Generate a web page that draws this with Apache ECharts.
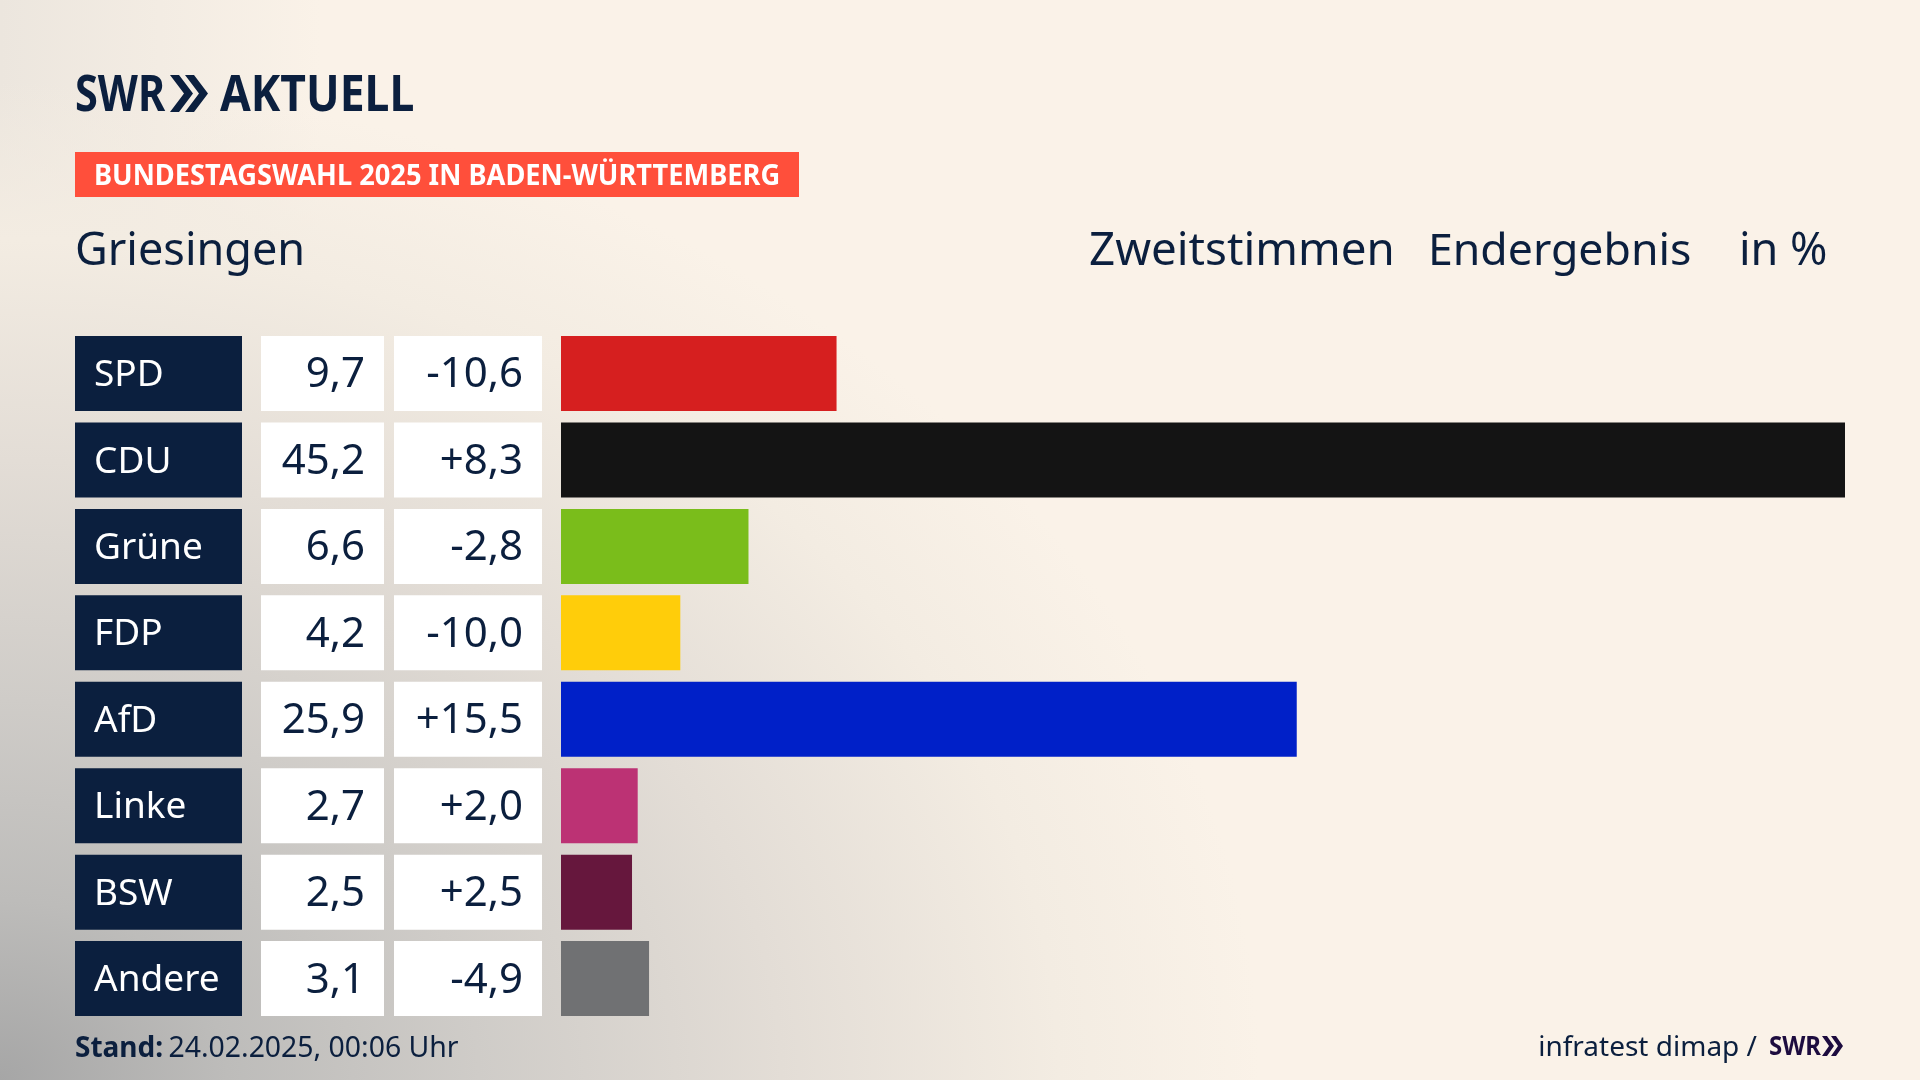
<!DOCTYPE html>
<html lang="de"><head><meta charset="utf-8"><title>Griesingen</title>
<script src="https://cdn.jsdelivr.net/npm/echarts@6/dist/echarts.min.js"></script>
<style>
html,body{margin:0;padding:0;width:1920px;height:1080px;overflow:hidden;background:#faf2e8}
#bg{position:absolute;inset:0;background:
radial-gradient(ellipse 1260px 1000px at 0 1080px,#a6a6a6 0%,#bdbcba 18%,#cfccc8 38%,#e3ddd6 62%,#f3ece2 84%,rgba(250,242,232,0) 100%),
linear-gradient(90deg,#ece6de 0,rgba(250,242,232,0) 320px),#faf2e8}
#c{position:absolute;left:0;top:0;width:1920px;height:1080px}
</style></head><body><div id="bg"></div><div id="c"></div>
<script>
const parties=['SPD','CDU','Grüne','FDP','AfD','Linke','BSW','Andere'];
const results=[9.7,45.2,6.6,4.2,25.9,2.7,2.5,3.1];
const changes=[-10.6,8.3,-2.8,-10.0,15.5,2.0,2.5,-4.9];
const colors=['#D61F1F','#141414','#7ABD1B','#FFCD0A','#0020C8','#BC3274','#66173D','#707173'];
const cellFill=[1,1,1,1,1,1,1,1];

const FONT='"Noto Sans"';
const NAVY='#0B1F3E';
const fmt=v=>v.toFixed(1).replace('.',',');
const fmtD=v=>(v>0?'+':'')+fmt(v);

const top0=330.3,h=691.5;
const lefts=[[75,167],[261,123],[394,148],[561,1284]];
const grids=lefts.map(([left,width])=>({left,width,top:top0,height:h}));
const xAxes=lefts.map((_,i)=>({gridIndex:i,type:'value',min:0,max:i===3?45.2:1,show:false}));
const yAxes=lefts.map((_,i)=>({gridIndex:i,type:'category',data:parties,inverse:true,show:false}));
const cell=(i,color,labelFn,align,textColor,size)=>({
  type:'bar',xAxisIndex:i,yAxisIndex:i,barWidth:75,silent:true,
  data:cellFill,itemStyle:{color},
  label:{show:true,position:align==='left'?'insideLeft':'insideRight',distance:19,offset:[0,2],
    color:textColor,fontFamily:FONT,fontSize:size,formatter:p=>labelFn(p.dataIndex)}
});
const series=[
  cell(0,NAVY,i=>parties[i],'left','#fff',37),
  cell(1,'#fff',i=>fmt(results[i]),'right',NAVY,42),
  cell(2,'#fff',i=>fmtD(changes[i]),'right',NAVY,42),
  {type:'bar',xAxisIndex:3,yAxisIndex:3,barWidth:75,silent:true,
   data:results.map((v,i)=>({value:v,itemStyle:{color:colors[i]}}))}
];
const txt=(text,x,y,size,opt={})=>({type:'text',silent:true,x,y,scaleX:opt.sx||1,style:Object.assign({
  text,x:0,y:0,fill:NAVY,font:`${opt.weight||'normal'} ${size}px ${FONT}`,verticalAlign:'middle',align:opt.align||'left'},opt.style||{})});
const chev=(x,y,hh,w,gap,th,fill)=>[0,1].map(k=>({type:'polygon',silent:true,
  shape:{points:[[x+k*gap,y],[x+k*gap+th,y],[x+k*gap+th+w,y+hh/2],[x+k*gap+th,y+hh],[x+k*gap,y+hh],[x+k*gap+w,y+hh/2]]},style:{fill}}));
const graphic=[
  txt('SWR',75,97,50,{weight:'bold',sx:0.83}),
  ...chev(170,75,37,14,15,9,NAVY),
  txt('AKTUELL',220,97,50,{weight:'bold',sx:0.89}),
  {type:'rect',silent:true,shape:{x:75,y:152,width:724,height:45},style:{fill:'#FF4F3B'}},
  txt('BUNDESTAGSWAHL 2025 IN BADEN-WÜRTTEMBERG',94,177,28,{weight:'bold',sx:0.973,style:{fill:'#fff'}}),
  txt('Griesingen',75,252,45),
  txt('Zweitstimmen',1089,252,45.7),
  txt('Endergebnis',1428,252,44.6),
  txt('in %',1739,252,45),
  {type:'text',silent:true,x:75,y:1049,style:{x:0,y:0,verticalAlign:'middle',fill:NAVY,
    text:'{b|Stand:} {n|24.02.2025, 00:06 Uhr}',
    rich:{b:{font:`bold 28px ${FONT}`,fill:NAVY,padding:[0,2,0,0]},n:{font:`normal 28.4px ${FONT}`,fill:NAVY}}}},
  txt('infratest dimap /',1757,1048,28,{align:'right'}),
  txt('SWR',1769,1048,26,{weight:'bold',sx:0.92,style:{fill:'#1D0C3F'}}),
  ...chev(1822,1036,20,7,9,5,'#1D0C3F')
];
const chart=echarts.init(document.getElementById('c'),null,{renderer:'canvas',width:1920,height:1080});
chart.setOption({animation:false,backgroundColor:'transparent',grid:grids,xAxis:xAxes,yAxis:yAxes,series,graphic:{elements:graphic}});
</script></body></html>
